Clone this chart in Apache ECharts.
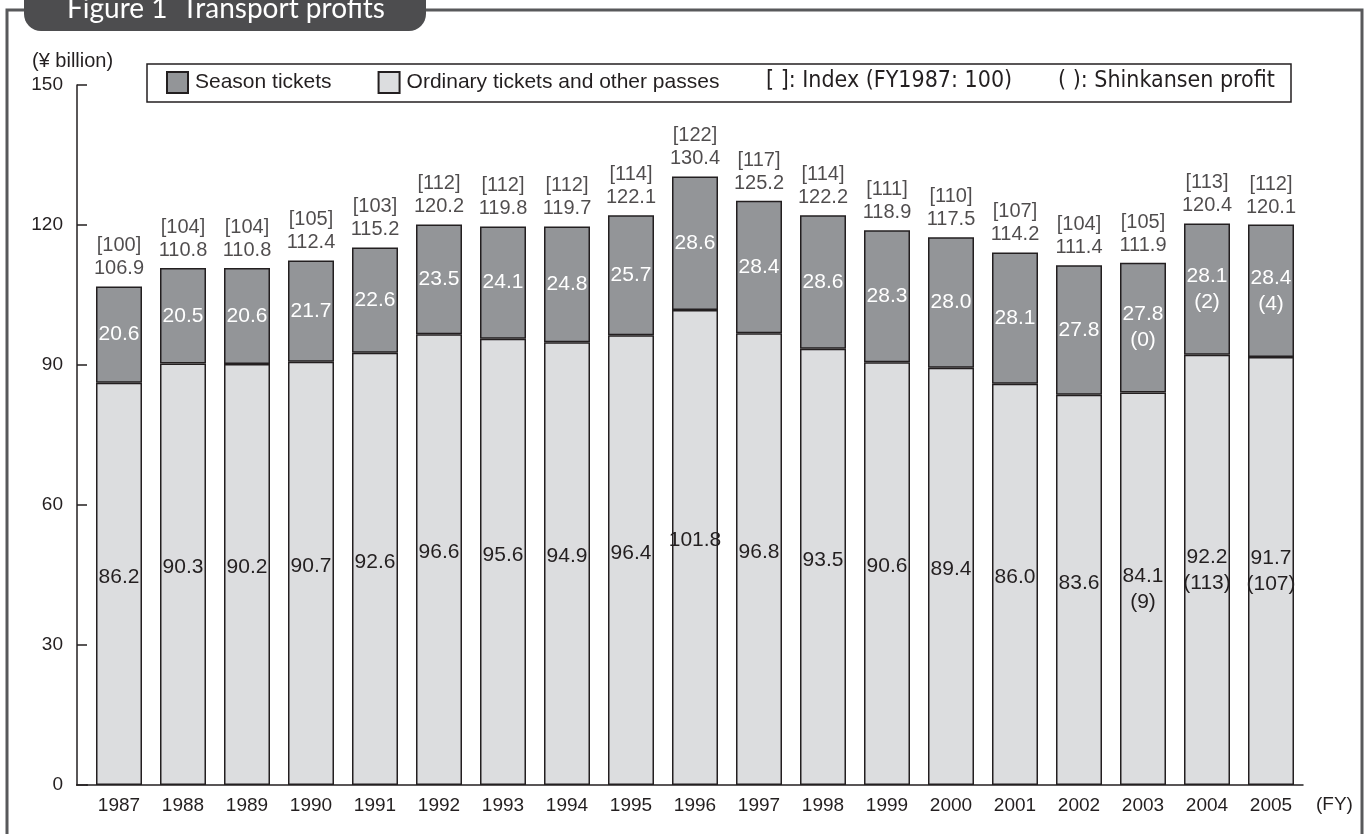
<!DOCTYPE html>
<html>
<head>
<meta charset="utf-8">
<script src="https://cdn.jsdelivr.net/npm/echarts@6/dist/echarts.min.js"></script>
<style>
  html, body { margin: 0; padding: 0; background: #fff; }
  #chart { width: 1369px; height: 834px; }
</style>
</head>
<body>
<div id="chart"></div>
<script>
var years = ['1987', '1988', '1989', '1990', '1991', '1992', '1993', '1994', '1995', '1996',
    '1997', '1998', '1999', '2000', '2001', '2002', '2003', '2004', '2005'];
var ordinary = [86.2, 90.3, 90.2, 90.7, 92.6, 96.6, 95.6, 94.9, 96.4, 101.8,
    96.8, 93.5, 90.6, 89.4, 86.0, 83.6, 84.1, 92.2, 91.7];
var season = [20.6, 20.5, 20.6, 21.7, 22.6, 23.5, 24.1, 24.8, 25.7, 28.6,
    28.4, 28.6, 28.3, 28.0, 28.1, 27.8, 27.8, 28.1, 28.4];
var totals = [106.9, 110.8, 110.8, 112.4, 115.2, 120.2, 119.8, 119.7, 122.1, 130.4,
    125.2, 122.2, 118.9, 117.5, 114.2, 111.4, 111.9, 120.4, 120.1];
var index = [100, 104, 104, 105, 103, 112, 112, 112, 114, 122,
    117, 114, 111, 110, 107, 104, 105, 113, 112];
// shinkansen profit, only given for the last three years
var shinOrdinary = [null, null, null, null, null, null, null, null, null, null,
    null, null, null, null, null, null, 9, 113, 107];
var shinSeason = [null, null, null, null, null, null, null, null, null, null,
    null, null, null, null, null, null, 0, 2, 4];
var yTicks = [0, 30, 60, 90, 120, 150];

var font = 'Liberation Sans';
var ink = '#231f20';

function fmt(v) { return v.toFixed(1); }

var ordinaryData = ordinary.map(function (v, i) {
    return {
        value: v,
        label: { offset: [0, shinOrdinary[i] == null ? -7 : 0] }
    };
});

var chart = echarts.init(document.getElementById('chart'));
chart.setOption({
    animation: false,
    backgroundColor: '#fff',
    textStyle: { fontFamily: font, color: ink },
    grid: { left: 87, right: 66, top: 85, bottom: 49 },
    legend: {
        left: 161, top: 66,
        icon: 'rect',
        itemWidth: 21, itemHeight: 21, itemGap: 46,
        data: ['Season tickets', 'Ordinary tickets and other passes'],
        textStyle: { fontSize: 21, color: ink, fontFamily: font, padding: [0, 0, 0, 2] }
    },
    xAxis: {
        type: 'category',
        data: years,
        axisLine: { lineStyle: { color: ink, width: 1.5 } },
        axisTick: {
            inside: true, length: 11,
            interval: function (i) { return i !== 0; },
            lineStyle: { color: ink, width: 1.5 }
        },
        axisLabel: { fontSize: 19, fontFamily: font, color: ink, margin: 11 }
    },
    yAxis: {
        type: 'value',
        min: yTicks[0], max: yTicks[yTicks.length - 1], interval: 30,
        offset: 10,
        axisLine: { show: true, lineStyle: { color: ink, width: 1.5 } },
        axisTick: { show: true, inside: true, length: 10, lineStyle: { color: ink, width: 1.5 } },
        axisLabel: { fontSize: 19, fontFamily: font, color: ink, margin: 14 },
        splitLine: { show: false }
    },
    series: [
        {
            name: 'Ordinary tickets and other passes',
            type: 'bar',
            stack: 'p',
            barWidth: 46,
            data: ordinaryData,
            itemStyle: { color: '#dcdddf', borderColor: ink, borderWidth: 1.5 },
            label: {
                show: true, position: 'inside', fontSize: 21, fontFamily: font,
                color: ink, lineHeight: 26,
                formatter: function (p) {
                    var s = shinOrdinary[p.dataIndex];
                    return fmt(p.value) + (s == null ? '' : '\n(' + s + ')');
                }
            }
        },
        {
            name: 'Season tickets',
            type: 'bar',
            stack: 'p',
            barWidth: 46,
            data: season,
            itemStyle: { color: '#939598', borderColor: ink, borderWidth: 1.5 },
            label: {
                show: true, position: 'inside', fontSize: 21, fontFamily: font,
                color: '#fff', lineHeight: 26,
                formatter: function (p) {
                    var s = shinSeason[p.dataIndex];
                    return fmt(p.value) + (s == null ? '' : '\n(' + s + ')');
                }
            }
        },
        {
            name: 'total',
            type: 'scatter',
            symbolSize: 0,
            data: totals,
            silent: true,
            label: {
                show: true, position: 'top', distance: 6,
                fontSize: 20, fontFamily: font, lineHeight: 23, color: ink,
                formatter: function (p) {
                    return '[' + index[p.dataIndex] + ']\n' + fmt(p.value);
                }
            }
        }
    ],
    graphic: [
        {
            type: 'polyline', silent: true,
            shape: { points: [[7, 834], [7, 10], [1362, 10], [1362, 834]] },
            style: { stroke: '#58595b', lineWidth: 3, fill: null }
        },
        {
            type: 'rect', silent: true,
            shape: { x: 24, y: -20, width: 402, height: 51, r: [0, 0, 17, 17] },
            style: { fill: '#4d4d4f' }
        },
        {
            type: 'text', silent: true, left: 67, top: -5,
            style: { text: 'Figure 1  Transport profits', fill: '#fff', font: '28px Lato' }
        },
        {
            type: 'rect', silent: true,
            shape: { x: 147, y: 64, width: 1144, height: 38 },
            style: { fill: null, stroke: ink, lineWidth: 1.5 }
        },
        {
            type: 'text', silent: true, left: 766, top: 70,
            style: { text: '[ ]: Index (FY1987: 100)', fill: ink, font: '23px "DejaVu Sans Condensed"' }
        },
        {
            type: 'text', silent: true, left: 1058, top: 70,
            style: { text: '( ): Shinkansen profit', fill: ink, font: '23px "DejaVu Sans Condensed"' }
        },
        {
            type: 'text', silent: true, left: 32, top: 51,
            style: { text: '(¥ billion)', fill: ink, font: '20px "Liberation Sans"' }
        },
        {
            type: 'text', silent: true, left: 1316, top: 795,
            style: { text: '(FY)', fill: ink, font: '19px "Liberation Sans"' }
        },
        {
            type: 'line', silent: true,
            shape: { x1: 76, y1: 785, x2: 88, y2: 785 },
            style: { stroke: ink, lineWidth: 1.5 }
        }
    ]
});
</script>
</body>
</html>
